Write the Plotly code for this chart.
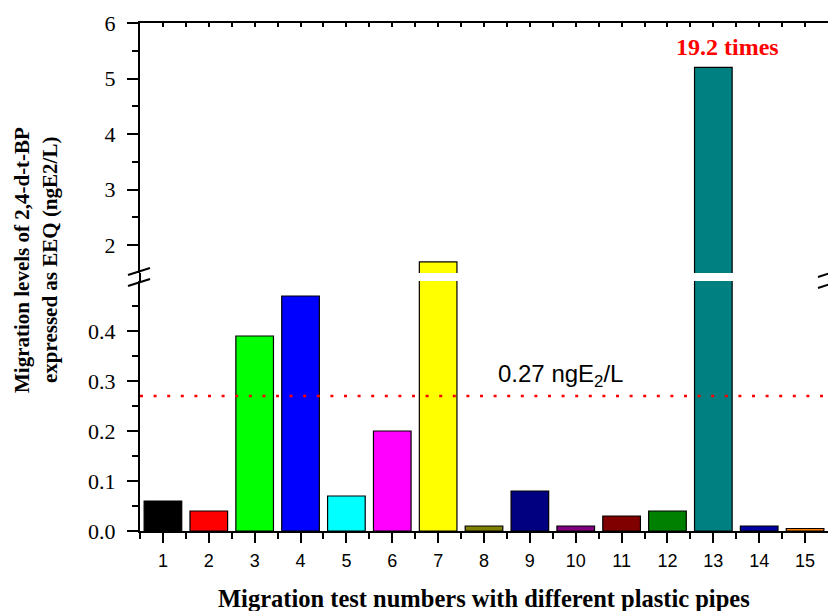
import plotly.graph_objects as go

tests = list(range(1, 16))
values = [0.06, 0.04, 0.39, 0.47, 0.07, 0.20, 1.7, 0.01, 0.08, 0.01, 0.03, 0.04, 5.2, 0.01, 0.005]
colors = ["#000000", "#FF0000", "#00FF00", "#0000FF", "#00FFFF", "#FF00FF", "#FFFF00",
          "#808000", "#000080", "#800080", "#800000", "#008000", "#008080", "#0000A0", "#FF8000"]
threshold = 0.27
low_ticks = [0.0, 0.1, 0.2, 0.3, 0.4]
low_minor = [0.05, 0.15, 0.25, 0.35, 0.45]
high_ticks = [2, 3, 4, 5, 6]
high_minor = [2.5, 3.5, 4.5, 5.5]

serif = "Liberation Serif"
sans = "Liberation Sans"

W, H = 828, 611
L, R, T, B = 140, 0, 23, 80
pw, ph = W - L - R, H - T - B

def px_x(p):
    return (p - L) / pw

def px_y(p):
    return (H - B - p) / ph

low_dom = [0, 250 / ph]
high_dom = [(ph - 250) / ph, 1]

fig = go.Figure()
marker = dict(color=colors, line=dict(color="black", width=1.2))
fig.add_trace(go.Bar(x=tests, y=values, marker=marker, width=0.82, xaxis="x", yaxis="y"))
fig.add_trace(go.Bar(x=tests, y=values, marker=marker, width=0.82, xaxis="x2", yaxis="y2"))

axis_common = dict(showgrid=False, zeroline=False, showline=True, linecolor="black", linewidth=2,
                   tickcolor="black", tickwidth=2)

fig.update_layout(
    width=W, height=H,
    margin=dict(l=L, r=R, t=T, b=B, autoexpand=False),
    paper_bgcolor="white", plot_bgcolor="white",
    showlegend=False,
    xaxis=dict(**axis_common, domain=[0, 1], range=[0.5, 15.5], anchor="y",
               tickvals=tests, ticks="outside", ticklen=10,
               tickfont=dict(family=sans, size=18, color="black"),
               ticklabelstandoff=2,
               minor=dict(tickvals=[t + 0.5 for t in tests[:-1]] + [0.5], ticks="outside",
                          ticklen=6, tickcolor="black", tickwidth=2)),
    xaxis2=dict(**axis_common, matches="x", anchor="y2", side="top", showticklabels=False,
                ticks="inside", ticklen=4, tick0=0, dtick=0.5),
    yaxis=dict(**axis_common, domain=low_dom, range=[0, 0.5], anchor="x",
               tickvals=low_ticks, ticktext=[f"{v:.1f}" for v in low_ticks],
               ticks="outside", ticklen=11,
               tickfont=dict(family=serif, size=22, color="black"),
               ticklabelstandoff=7,
               minor=dict(tickvals=low_minor, ticks="outside", ticklen=6,
                          tickcolor="black", tickwidth=2)),
    yaxis2=dict(**axis_common, domain=high_dom, range=[1.5, 6], anchor="x2",
                tickvals=high_ticks, ticks="outside", ticklen=11,
                tickfont=dict(family=serif, size=22, color="black"),
                ticklabelstandoff=7,
                minor=dict(tickvals=high_minor, ticks="outside", ticklen=6,
                           tickcolor="black", tickwidth=2)),
)

shapes = []
# threshold line
shapes.append(dict(type="line", xref="paper", x0=0, x1=1, yref="y", y0=threshold, y1=threshold,
                   line=dict(color="red", width=2.5, dash="3px,10.6px")))
# left axis connector through the break
shapes.append(dict(type="line", xref="paper", x0=0, x1=0, yref="paper",
                   y0=low_dom[1], y1=high_dom[0], line=dict(color="black", width=2)))
# break marks
for (xa, ya, xb, yb) in [(128, 275, 150, 268), (128, 286, 150, 279),
                         (818, 277, 840, 270), (818, 288, 840, 281)]:
    shapes.append(dict(type="line", xref="paper", yref="paper",
                       x0=px_x(xa), y0=px_y(ya), x1=px_x(xb), y1=px_y(yb),
                       line=dict(color="black", width=2)))
fig.update_layout(shapes=shapes)

annotations = [
    dict(text="0.27 ngE<sub>2</sub>/L", xref="x", yref="y", x=8.27, y=0.312,
         xanchor="left", yanchor="middle", showarrow=False,
         font=dict(family=sans, size=24, color="black")),
    dict(text="<b>19.2 times</b>", xref="x2", yref="y2", x=13.3, y=5.57,
         xanchor="center", yanchor="middle", showarrow=False,
         font=dict(family=serif, size=24, color="red")),
    dict(text="<b>Migration test numbers with different plastic pipes</b>", xref="paper", yref="paper",
         x=px_x(484), y=px_y(598), xanchor="center", yanchor="middle", showarrow=False,
         font=dict(family=serif, size=24.5, color="black")),
    dict(text="<b>Migration levels of 2,4-d-t-BP</b>", xref="paper", yref="paper",
         x=px_x(22), y=px_y(260), xanchor="center", yanchor="middle", textangle=-90,
         showarrow=False, font=dict(family=serif, size=21, color="black")),
    dict(text="<b>expressed as EEQ (ngE2/L)</b>", xref="paper", yref="paper",
         x=px_x(50), y=px_y(260), xanchor="center", yanchor="middle", textangle=-90,
         showarrow=False, font=dict(family=serif, size=21, color="black")),
]
fig.update_layout(annotations=annotations)

fig.write_html("out.html", config={"displayModeBar": False},
               post_script="document.body.style.margin='0';document.body.style.padding='0';")
